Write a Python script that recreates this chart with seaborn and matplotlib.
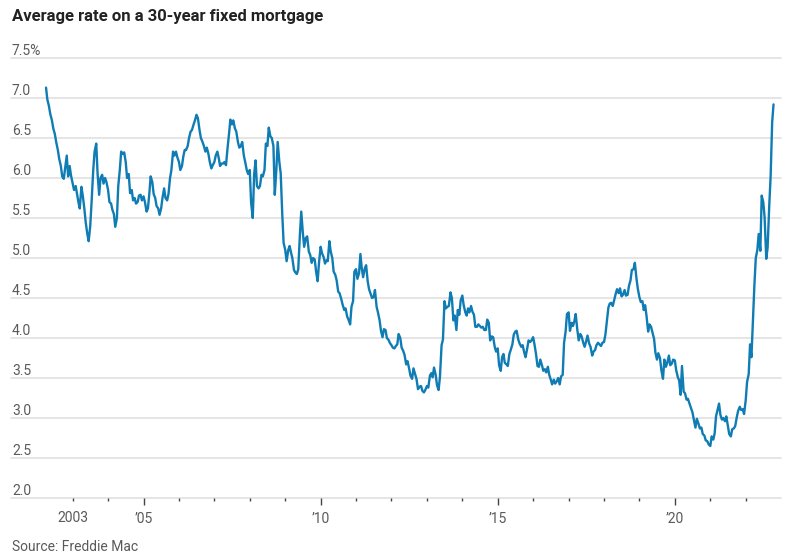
import matplotlib
matplotlib.use('Agg')
import matplotlib.pyplot as plt
import numpy as np
import pandas as pd
import seaborn as sns

start_date = '2002-04-01'
rates_2002 = [7.13, 6.98, 6.90, 6.80, 6.72, 6.62, 6.55, 6.45, 6.35, 6.24, 6.15, 6.02,
              5.99, 6.12, 6.28, 6.02, 6.15, 6.03]
rates_2003 = [5.93, 5.85, 5.90, 5.80, 5.70, 5.62, 5.89, 5.78, 5.62, 5.45, 5.30, 5.21,
              5.40, 5.70, 6.10, 6.33, 6.43, 6.05, 5.79, 6.00, 6.04, 5.93, 6.00, 5.95]
rates_2004 = [5.85, 5.70, 5.68, 5.60, 5.55, 5.39, 5.50, 5.90, 6.10, 6.33, 6.30, 6.32,
              6.20, 6.00, 6.05, 5.81, 5.85, 5.72, 5.75, 5.68, 5.70, 5.78, 5.79, 5.72]
rates_2005 = [5.77, 5.70, 5.58, 5.62, 5.80, 6.02, 5.95, 5.80, 5.75, 5.65, 5.62, 5.54,
              5.62, 5.75, 5.87, 5.75, 5.72, 5.80, 6.00, 6.10, 6.33, 6.28, 6.33, 6.26]
rates_2006 = [6.20, 6.10, 6.15, 6.27, 6.35, 6.35, 6.40, 6.50, 6.58, 6.60, 6.67, 6.72,
              6.79, 6.75, 6.60, 6.50, 6.45, 6.40, 6.33, 6.38, 6.30, 6.20, 6.12, 6.16]
rates_2007 = [6.20, 6.28, 6.33, 6.25, 6.15, 6.18, 6.18, 6.20, 6.16, 6.35, 6.55, 6.73,
              6.67, 6.72, 6.62, 6.58, 6.45, 6.38, 6.40, 6.45, 6.28, 6.20, 6.10, 6.05]
rates_2008 = [6.10, 5.69, 5.50, 6.04, 6.22, 5.90, 5.87, 5.90, 6.04, 6.02, 6.10, 6.43,
              6.40, 6.63, 6.52, 6.50, 6.40, 5.79, 6.10, 6.45, 6.20, 6.06, 5.55, 5.19]
rates_2009 = [5.10, 4.96, 5.10, 5.15, 5.07, 5.00, 4.85, 4.82, 4.80, 4.86, 5.29, 5.58,
              5.32, 5.14, 5.25, 5.27, 5.08, 5.04, 4.94, 5.00, 4.98, 4.83, 4.71, 4.94]
rates_2010 = [5.14, 5.06, 5.01, 4.93, 4.97, 4.96, 5.21, 5.08, 5.00, 4.83, 4.79, 4.72,
              4.58, 4.56, 4.49, 4.42, 4.35, 4.37, 4.27, 4.23, 4.17, 4.39, 4.46, 4.83]
rates_2011 = [4.86, 4.74, 4.81, 5.05, 4.87, 4.76, 4.87, 4.91, 4.71, 4.61, 4.55, 4.50,
              4.51, 4.60, 4.39, 4.32, 4.22, 4.09, 4.01, 4.11, 4.10, 4.00, 3.98, 3.94]
rates_2012 = [3.91, 3.88, 3.87, 3.90, 3.92, 4.05, 4.00, 3.88, 3.84, 3.79, 3.67, 3.71,
              3.62, 3.53, 3.49, 3.62, 3.55, 3.49, 3.36, 3.39, 3.40, 3.34, 3.32, 3.35]
rates_2013 = [3.40, 3.38, 3.53, 3.56, 3.51, 3.63, 3.54, 3.41, 3.35, 3.51, 3.91, 3.98,
              4.46, 4.37, 4.39, 4.40, 4.57, 4.50, 4.22, 4.28, 4.10, 4.35, 4.29, 4.47]
rates_2014 = [4.53, 4.41, 4.32, 4.28, 4.37, 4.32, 4.40, 4.33, 4.29, 4.14, 4.14, 4.17,
              4.15, 4.13, 4.14, 4.10, 4.10, 4.23, 4.19, 3.97, 4.02, 4.01, 3.89, 3.83]
rates_2015 = [3.87, 3.66, 3.59, 3.76, 3.80, 3.69, 3.67, 3.65, 3.80, 3.85, 3.92, 4.04,
              4.08, 4.09, 3.98, 3.93, 3.89, 3.91, 3.82, 3.76, 3.87, 3.97, 3.95, 3.97]
rates_2016 = [4.01, 3.92, 3.79, 3.65, 3.64, 3.73, 3.66, 3.59, 3.61, 3.57, 3.64, 3.54,
              3.48, 3.42, 3.48, 3.43, 3.46, 3.50, 3.42, 3.52, 3.54, 3.94, 4.08, 4.30]
rates_2017 = [4.32, 4.09, 4.19, 4.15, 4.21, 4.30, 4.10, 3.97, 4.05, 4.02, 3.94, 3.89,
              3.96, 4.03, 3.93, 3.89, 3.78, 3.83, 3.85, 3.91, 3.94, 3.92, 3.90, 3.94]
rates_2018 = [3.95, 4.04, 4.22, 4.38, 4.43, 4.44, 4.40, 4.47, 4.55, 4.61, 4.56, 4.62,
              4.52, 4.54, 4.60, 4.53, 4.54, 4.65, 4.72, 4.85, 4.86, 4.94, 4.75, 4.62]
rates_2019 = [4.51, 4.45, 4.46, 4.35, 4.41, 4.28, 4.08, 4.17, 4.14, 4.07, 3.99, 3.82,
              3.73, 3.81, 3.75, 3.60, 3.49, 3.73, 3.64, 3.69, 3.78, 3.66, 3.68, 3.73]
rates_2020 = [3.72, 3.60, 3.51, 3.47, 3.29, 3.65, 3.33, 3.31, 3.23, 3.24, 3.18, 3.13,
              3.07, 2.98, 2.88, 2.99, 2.93, 2.87, 2.88, 2.80, 2.78, 2.72, 2.71, 2.67]
rates_2021 = [2.65, 2.77, 2.73, 2.81, 3.02, 3.09, 3.18, 3.04, 2.98, 3.00, 2.96, 3.02,
              2.90, 2.80, 2.77, 2.86, 2.87, 2.90, 3.01, 3.09, 3.14, 3.10, 3.11, 3.05]
rates_2022 = [3.22, 3.45, 3.55, 3.92, 3.76, 4.16, 4.67, 5.00, 5.10, 5.30, 5.09, 5.78,
              5.70, 5.51, 4.99, 5.13, 5.66, 6.02, 6.70, 6.92]

y_ticks = [2.0, 2.5, 3.0, 3.5, 4.0, 4.5, 5.0, 5.5, 6.0, 6.5, 7.0, 7.5]
y_labels = ['2.0', '2.5', '3.0', '3.5', '4.0', '4.5', '5.0', '5.5', '6.0', '6.5', '7.0', '7.5%']
major_years = [2005, 2010, 2015, 2020]
major_labels = ['’05', '’10', '’15', '’20']

title = 'Average rate on a 30-year fixed mortgage'
source = 'Source: Freddie Mac'

LINE = '#0f7cb3'
GREY = '#5a5a5a'
GRID = '#e3e3e3'


def main():
    sns.set_style('white')
    plt.rcParams['font.family'] = ['Roboto', 'DejaVu Sans']

    rates = (rates_2002 + rates_2003 + rates_2004 + rates_2005 + rates_2006 + rates_2007
             + rates_2008 + rates_2009 + rates_2010 + rates_2011 + rates_2012 + rates_2013
             + rates_2014 + rates_2015 + rates_2016 + rates_2017 + rates_2018 + rates_2019
             + rates_2020 + rates_2021 + rates_2022)
    dates = pd.date_range(start_date, periods=len(rates), freq='SMS')
    df = pd.DataFrame({'date': dates, 'rate': rates})

    fig = plt.figure(figsize=(7.92, 5.59), dpi=100)
    ax = fig.add_axes([11 / 792, 1 - 498 / 559, 770 / 792, 440 / 559])

    for v in y_ticks:
        ax.axhline(v, color=GRID, lw=1.3, zorder=0, clip_on=False)

    sns.lineplot(data=df, x='date', y='rate', ax=ax, color=LINE, lw=1.7, zorder=3)

    ax.set_xlim(pd.Timestamp('2001-04-05'), pd.Timestamp('2022-12-31'))
    ax.set_ylim(2.0, 7.5)
    sns.despine(ax=ax, left=True, top=True, right=True, bottom=True)
    ax.set_xlabel('')
    ax.set_ylabel('')
    ax.set_yticks([])

    # y labels sit just above their gridlines
    for v, lab in zip(y_ticks, y_labels):
        ax.annotate(lab, xy=(0, v), xycoords=('axes fraction', 'data'),
                    xytext=(1, 3), textcoords='offset pixels',
                    ha='left', va='baseline', fontsize=10, color=GREY)

    # x ticks: small mark each year, taller marks at 5-year labels
    ax.set_xticks([pd.Timestamp(f'{y}-01-01') for y in major_years])
    ax.set_xticklabels(major_labels)
    minor_years = [y for y in range(2003, 2023) if y not in major_years]
    ax.set_xticks([pd.Timestamp(f'{y}-01-01') for y in minor_years], minor=True)
    ax.set_xticklabels(['2003' if y == 2003 else '' for y in minor_years], minor=True)
    ax.tick_params(axis='x', which='major', bottom=True, direction='out', length=5,
                   width=1, color='#444444', labelsize=10, labelcolor=GREY, pad=5)
    ax.tick_params(axis='x', which='minor', bottom=True, direction='out', length=2.5,
                   width=1, color='#444444', labelsize=10, labelcolor=GREY, pad=7)

    fig.text(12 / 792, 1 - 16 / 559, title, ha='left', va='center',
             fontsize=12, fontweight='bold', color='#222222')
    fig.text(12 / 792, 1 - 547 / 559, source, ha='left', va='center',
             fontsize=10, color=GREY)

    fig.savefig('out.png', dpi=100)


if __name__ == '__main__':
    main()
